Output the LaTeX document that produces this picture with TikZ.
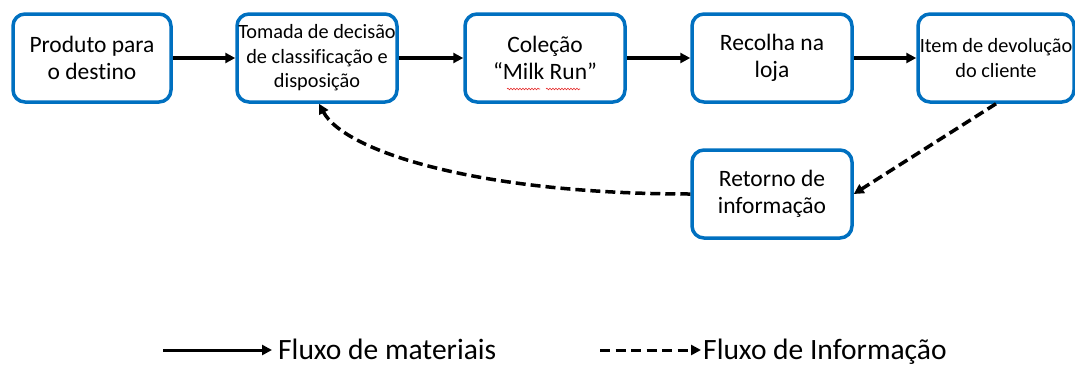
\documentclass[tikz,border=0pt]{standalone}
\usepackage{fontspec}
\setmainfont[Ligatures=CommonOff]{Carlito}
\usetikzlibrary{arrows.meta,decorations.pathmorphing}
\definecolor{boxblue}{RGB}{0,112,192}
\definecolor{spellred}{RGB}{230,40,40}
\tikzset{
  box/.style={draw=boxblue, line width=3.5pt, rounded corners=12pt, fill=white,
    minimum height=88pt, align=center, inner sep=1pt},
  big/.style={font=\fontsize{23.5}{27.5}\selectfont},
  small/.style={font=\fontsize{20.3}{24.5}\selectfont},
  flow/.style={line width=3.5pt, -{Triangle[length=10pt,width=10pt]}},
  info/.style={flow, dash pattern=on 10pt off 5pt},
  legtext/.style={anchor=base west, inner sep=0pt, font=\fontsize{29.5}{33}\selectfont},
  spell/.style={draw=spellred, line width=0.6pt, decorate,
    decoration={snake, amplitude=0.8pt, segment length=3pt}}
}
\begin{document}
\begin{tikzpicture}[x=1pt,y=-1pt]
\useasboundingbox (0,0) rectangle (1075,367);
\node[box,big,minimum width=158pt]   (b1) at (92,58)  {Produto para\\o destino};
\node[box,small,minimum width=160pt] (b2) at (317,58) {Tomada de decisão\\de classificação e\\disposição};
\node[box,big,minimum width=160pt]   (b3) at (545,58) {Coleção\\“Milk Run”};
\node[box,big,minimum width=160pt]   (b4) at (772,58) {Recolha na\\loja};
\node[box,small,minimum width=156pt] (b5) at (996,58) {Item de devolução\\do cliente};
\node[box,big,minimum width=160pt]   (b6) at (772,194) {Retorno de\\informação};
\draw[flow] (b1) -- (b2);
\draw[flow] (b2) -- (b3);
\draw[flow] (b3) -- (b4);
\draw[flow] (b4) -- (b5);
\draw[info] (b5.south) -- (b6.east);
\draw[info] (b6.west) .. controls (480,194) and (345,152) .. ([xshift=2pt]b2.south);
\coordinate (s1) at (507,89);
\coordinate (s2) at (540,89);
\coordinate (s3) at (546,89);
\coordinate (s4) at (580,89);
\draw[spell] (s1) -- (s2);
\draw[spell] (s3) -- (s4);
\coordinate (l1a) at (163,350);
\coordinate (l1b) at (272,350);
\coordinate (l2a) at (600,350);
\coordinate (l2b) at (701,350);
\draw[flow,line width=3pt] (l1a) -- (l1b);
\node[legtext] (t1) at (278,359) {Fluxo de materiais};
\draw[info,line width=3pt,dash pattern=on 10pt off 5.5pt] (l2a) -- (l2b);
\node[legtext] (t2) at (703,359) {Fluxo de Informação};
\end{tikzpicture}
\end{document}
